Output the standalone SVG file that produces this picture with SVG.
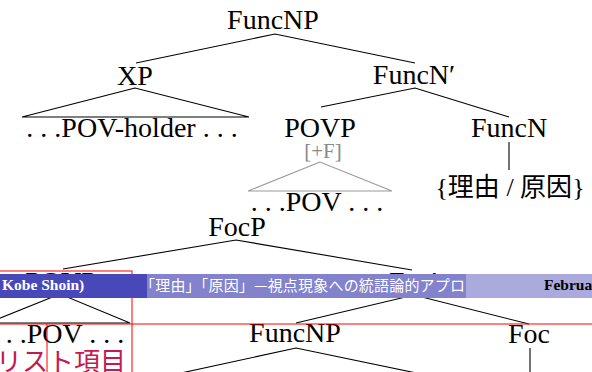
<svg xmlns="http://www.w3.org/2000/svg" width="592" height="372" viewBox="0 0 592 372">
<style>
.t{font-family:"Liberation Serif",serif;font-size:28px;fill:#000;text-anchor:middle}
.g{font-family:"Liberation Serif",serif;font-size:21px;fill:#888;text-anchor:middle}
.cj{font-family:"Liberation Serif",serif;font-size:26px;fill:#000;text-anchor:middle}
.cjk{font-family:"Noto Sans CJK JP",sans-serif}
.ln{stroke:#000;stroke-width:1.1;fill:none}
.gl{stroke:#999;stroke-width:1.1;fill:none}
.rd{stroke:#f00;stroke-width:1;fill:none}
.bt{font-family:"Liberation Serif",serif;font-weight:bold;font-size:15.5px}
.bj{font-family:"Noto Sans CJK JP",sans-serif;font-size:15px;fill:#fff}
.al{font-family:"Noto Sans CJK JP",sans-serif;font-size:26px;fill:#c41a4e}
</style>
<rect width="592" height="372" fill="#fff"/>
<g id="connectors">
<polyline class="ln" points="136,63 275,34 415,63"/>
<polygon class="ln" points="135,88 22,117 249,117"/>
<polyline class="ln" points="321,107 415,88 509,117"/>
<polygon class="gl" points="320,162 248,191 392,191"/>
<line class="ln" x1="509" y1="142" x2="509" y2="170"/>
<polyline class="ln" points="63,269 236,240 412,270"/>
<polygon class="ln" points="60,294 -12,323 130,323"/>
<polyline class="ln" points="296,323 414,295 529,324"/>
<polyline class="ln" points="149,380 296,348 450,380"/>
<line class="ln" x1="530" y1="348" x2="530" y2="380"/>
</g>
<g id="n-funcnp"><text class="t" x="273" y="29">FuncNP</text></g>
<g id="n-xp"><text class="t" x="135" y="85">XP</text></g>
<g id="n-funcnbar"><text class="t" x="414" y="84">FuncN′</text></g>
<g id="n-povholder"><text class="t" x="132" y="137">. . .POV-holder . . .</text></g>
<g id="n-povp"><text class="t" x="320" y="137">POVP</text><text class="g" x="323" y="158">[+F]</text></g>
<g id="n-funcn"><text class="t" x="509" y="137">FuncN</text></g>
<g id="n-pov"><text class="t" x="317" y="211">. . .POV . . .</text></g>
<g id="n-riyuu"><text class="cj" x="510" y="196">{<tspan class="cjk">理由</tspan> / <tspan class="cjk">原因</tspan>}</text></g>
<g id="n-focp"><text class="t" x="237" y="236">FocP</text></g>
<g id="n-povp2"><text class="t" x="61" y="291">POVP</text></g>
<g id="n-focbar"><text class="t" x="413" y="291">Foc′</text></g>
<g id="n-pov2"><text class="t" x="58" y="343">. . .POV . . .</text></g>
<g id="n-funcnp2"><text class="t" x="295" y="342">FuncNP</text></g>
<g id="n-foc"><text class="t" x="529" y="343">Foc</text></g>
<g id="redboxes">
<rect class="rd" x="-5" y="271" width="137" height="53"/>
<line class="rd" x1="47" y1="324" x2="47" y2="380"/>
<line class="rd" x1="132" y1="324" x2="132" y2="380"/>
<line class="rd" x1="132" y1="324" x2="600" y2="324"/>
</g>
<g id="n-list"><text class="al" x="-4" y="371">リスト項目</text></g>
<g id="footline">
<rect x="0" y="274" width="147" height="24" fill="#4848b8"/>
<rect x="147" y="274" width="319" height="24" fill="#8282cd"/>
<rect x="466" y="274" width="126" height="24" fill="#aaaadd"/>
<text class="bt" x="2" y="290" fill="#fff">Kobe Shoin)</text>
<text class="bj" x="140" y="291" textLength="325" lengthAdjust="spacing">「理由」「原因」—視点現象への統語論的アプロ</text>
<text class="bt" x="544" y="290" fill="#000">Februa</text>
</g>
</svg>
